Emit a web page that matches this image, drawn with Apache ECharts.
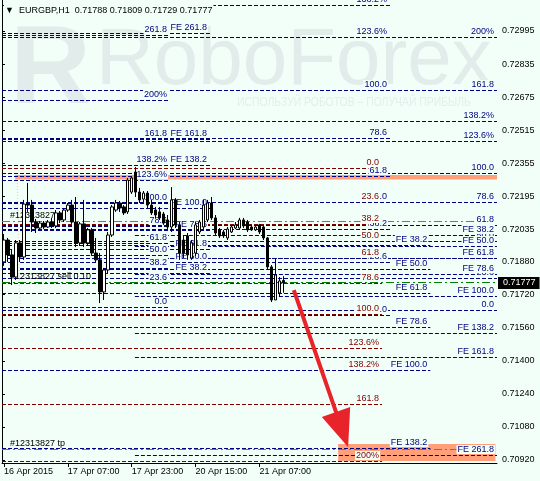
<!DOCTYPE html>
<html>
<head>
<meta charset="utf-8">
<script src="https://cdn.jsdelivr.net/npm/echarts@6/dist/echarts.min.js"></script>
<style>
  html, body { margin: 0; padding: 0; background: #F2FFF9; }
  #chart { width: 540px; height: 481px; }
</style>
</head>
<body>
<div id="chart"></div>
<script>
// EURGBP H1 candles, 16 Apr 15:00 .. 21 Apr 13:00
const opens = [0.71878,0.71984,0.71912,0.71805,0.71970,0.71902,0.72158,0.72153,0.72071,0.72042,
  0.72066,0.72047,0.72071,0.72052,0.72115,0.72081,0.72129,0.72153,0.72071,0.71970,
  0.72062,0.71970,0.72033,0.71921,0.71888,0.71733,0.71839,0.72008,0.72129,0.72163,
  0.72144,0.72120,0.72216,0.72313,0.72216,0.72182,0.72211,0.72153,0.72129,0.72120,
  0.72110,0.72081,0.72047,0.72178,0.72057,0.71984,0.72004,0.71897,0.71921,0.72023,
  0.72047,0.72081,0.72163,0.72091,0.72033,0.72023,0.71994,0.72023,0.72042,0.72042,
  0.72081,0.72071,0.72047,0.72033,0.72057,0.72047,0.71994,0.71854,0.71694,0.71728,
  0.71788];
const closes = [0.71984,0.71912,0.71805,0.71970,0.71902,0.72158,0.72153,0.72071,0.72042,0.72066,
  0.72047,0.72071,0.72052,0.72115,0.72081,0.72129,0.72153,0.72071,0.71970,0.72062,
  0.71970,0.72033,0.71921,0.71888,0.71733,0.71839,0.72008,0.72144,0.72163,0.72139,
  0.72115,0.72274,0.72284,0.72216,0.72178,0.72211,0.72153,0.72115,0.72105,0.72091,
  0.72066,0.72047,0.72178,0.72057,0.71921,0.71921,0.71912,0.71970,0.72057,0.72071,
  0.72153,0.72163,0.72091,0.72018,0.72004,0.72004,0.72037,0.72047,0.72057,0.72081,
  0.72052,0.72033,0.72033,0.72047,0.72023,0.71994,0.71854,0.71694,0.71815,0.71786,
  0.71777];
const lows = [0.71859,0.71878,0.71766,0.71791,0.71878,0.71888,0.72120,0.72023,0.72018,0.72033,
  0.72037,0.72042,0.72042,0.72042,0.72066,0.72071,0.72120,0.72062,0.71950,0.71955,
  0.71950,0.71955,0.71907,0.71878,0.71679,0.71694,0.71824,0.71999,0.72120,0.72120,
  0.72105,0.72110,0.72207,0.72192,0.72163,0.72168,0.72139,0.72105,0.72091,0.72081,
  0.72057,0.72037,0.72023,0.72042,0.71888,0.71897,0.71888,0.71888,0.71907,0.72013,
  0.72037,0.72071,0.72081,0.72008,0.71994,0.71994,0.71984,0.72018,0.72037,0.72033,
  0.72042,0.72023,0.72028,0.72028,0.72013,0.71984,0.71839,0.71684,0.71694,0.71708,
  0.71729];
const highs = [0.72013,0.71994,0.71936,0.71984,0.71984,0.72178,0.72260,0.72178,0.72086,0.72076,
  0.72076,0.72081,0.72091,0.72129,0.72124,0.72139,0.72163,0.72178,0.72192,0.72071,
  0.72178,0.72042,0.72042,0.71994,0.71921,0.71849,0.72023,0.72153,0.72178,0.72173,
  0.72153,0.72284,0.72294,0.72337,0.72236,0.72221,0.72221,0.72178,0.72144,0.72144,
  0.72120,0.72105,0.72240,0.72187,0.72071,0.72008,0.72018,0.71984,0.72071,0.72081,
  0.72178,0.72178,0.72192,0.72105,0.72042,0.72033,0.72047,0.72057,0.72071,0.72091,
  0.72091,0.72081,0.72057,0.72057,0.72062,0.72052,0.71999,0.71863,0.71897,0.71805,
  0.71809];

const xTickLabels = ['16 Apr 2015', '17 Apr 07:00', '17 Apr 23:00', '20 Apr 15:00', '21 Apr 07:00'];
const yTicks = [0.72995, 0.72835, 0.72675, 0.72515, 0.72355, 0.72195, 0.72035,
  0.71880, 0.71720, 0.71560, 0.71400, 0.71240, 0.71080, 0.70920];
const lastPrice = 0.71777;

// fibonacci levels
const leftRetLabels = ['261.8','200%','161.8','138.2%','123.6%','100.0','78.6','61.8','50.0','38.2','23.6','0.0'];
const leftRetPrices = [0.72976,0.72661,0.72473,0.72347,0.72274,0.72163,0.72052,0.71970,0.71912,0.71849,0.71776,0.71660];
const leftExpLabels = ['FE 261.8','FE 161.8','FE 138.2','FE 100.0','FE 78.6','FE 61.8','FE 50.0','FE 38.2'];
const leftExpPrices = [0.72985,0.72473,0.72347,0.72139,0.72033,0.71941,0.71878,0.71824];
const upperRetLabels = ['138.2%','123.6%','100.0','78.6','61.8','50.0','38.2','23.6','0.0'];
const upperRetPrices = [0.73122,0.72966,0.72710,0.72477,0.72294,0.72168,0.72037,0.71878,0.71621];
const redRetLabels = ['0.0','23.6','38.2','50.0','61.8','78.6','100.0','123.6%','138.2%','161.8','200%'];
const redRetPrices = [0.72332,0.72168,0.72062,0.71979,0.71897,0.71776,0.71626,0.71462,0.71355,0.71191,0.70915];
const midExpLabels = ['FE 38.2','FE 50.0','FE 61.8','FE 78.6','FE 100.0','FE 138.2'];
const midExpPrices = [0.71960,0.71844,0.71728,0.71563,0.71355,0.70978];
const rightRetLabels = ['200%','161.8','138.2%','123.6%','100.0','78.6','61.8','50.0','38.2','23.6','0.0'];
const rightRetPrices = [0.72966,0.72710,0.72560,0.72463,0.72308,0.72168,0.72057,0.71979,0.71897,0.71800,0.71646];
const rightExpLabels = ['FE 38.2','FE 50.0','FE 61.8','FE 78.6','FE 100.0','FE 138.2','FE 161.8','FE 261.8'];
const rightExpPrices = [0.72008,0.71955,0.71897,0.71820,0.71713,0.71534,0.71418,0.70944];

// order #12313827
const orderLabels = ['#12313827 sl', '#12313827 sell 0.10', '#12313827 tp'];
const orderPrices = [0.72076, 0.71781, 0.70973];

// zones, arrow, anchor line (bar index, price)
const zones = [[3.3, 124, 0.72299, 0.72277], [84.2, 123.6, 0.70997, 0.70915]];
const arrow = [73.1, 0.71742, 86.7, 0.70983];
const anchorLine = [3.8, 0.72289, 4.5, 0.71655];

const BG = '#F2FFF9';
const NAVY = '#000080';
const MAROON = '#800000';
const FONT = '9px "Liberation Sans", Arial, sans-serif';
const SLOTS = 124;

// build level list: [x0, x1, price], with colour/text kept beside
const levelData = [], levelColor = [], levelText = [];
function addSet(labels, prices, x0, x1, color) {
  prices.forEach((p, i) => {
    levelData.push([x0, x1, p]);
    levelColor.push(color);
    levelText.push(labels[i]);
  });
}
addSet(leftRetLabels, leftRetPrices, 0, 42.1, NAVY);
addSet(leftExpLabels, leftExpPrices, 0, 52.1, NAVY);
addSet(upperRetLabels, upperRetPrices, 0, 97.2, NAVY);
addSet(redRetLabels, redRetPrices, 0, 95.2, MAROON);
addSet(midExpLabels, midExpPrices, 0, 107.3, NAVY);
addSet(rightRetLabels, rightRetPrices, 0, SLOTS, NAVY);
addSet(rightExpLabels, rightExpPrices, 33.3, SLOTS, NAVY);

const orderData = orderPrices.map(p => [0, SLOTS, p]);
const orderColor = ['#FF4500', '#008000', '#FF4500'];

const candleData = opens.map((o, i) => [o, closes[i], lows[i], highs[i]]);
const categories = Array.from({ length: SLOTS }, (_, i) => String(i));

const chart = echarts.init(document.getElementById('chart'));

function crisp(v) { return Math.round(v) + 0.5; }

const option = {
  animation: false,
  backgroundColor: BG,
  grid: { left: 2, top: 0, width: 495, height: 463, outerBoundsMode: 'none', containLabel: false },
  graphic: [
    { type: 'text', left: 10, top: 16, z: -10, silent: true,
      style: { text: 'R', font: 'bold 112px "Liberation Sans", Arial, sans-serif', fill: '#E2ECEB' } },
    { type: 'text', left: 96, top: 22, z: -10, silent: true,
      style: { text: 'RoboForex', font: '80px "Liberation Sans", Arial, sans-serif', fill: '#E2ECEB' } },
    { type: 'text', left: 237, top: 96, z: -10, silent: true, scaleX: 0.8,
      style: { text: 'ИСПОЛЬЗУЙ РОБОТОВ – ПОЛУЧАЙ ПРИБЫЛЬ', font: '13px "Liberation Sans", Arial, sans-serif', fill: '#E3EDEC' } },
    { type: 'text', left: 4, top: 5, z: 100, silent: true,
      style: { text: '▼  EURGBP,H1  0.71788 0.71809 0.71729 0.71777', font: FONT, fill: '#000',
        backgroundColor: BG, padding: [1, 1, 1, 1] } }
  ],
  xAxis: [
    {
      type: 'category', data: categories, boundaryGap: true,
      axisLine: { lineStyle: { color: '#000', width: 1 } },
      axisTick: { show: true, alignWithLabel: true, length: 4, lineStyle: { color: '#000' },
        interval: (i) => i % 16 === 0 && i / 16 < xTickLabels.length },
      axisLabel: { show: true, color: '#000', fontFamily: 'Liberation Sans', fontSize: 9, align: 'left', margin: 4,
        interval: (i) => i % 16 === 0 && i / 16 < xTickLabels.length,
        formatter: (v, i) => xTickLabels[i / 16] || '' },
      splitLine: { show: false }
    },
    { type: 'value', min: 0, max: SLOTS, show: false }
  ],
  yAxis: [
    {
      type: 'value', position: 'right', min: 0.709055, max: 0.731449, scale: true,
      axisLine: { show: true, lineStyle: { color: '#000', width: 1 } },
      axisTick: { show: true, length: 3, customValues: yTicks, lineStyle: { color: '#000' } },
      axisLabel: { color: '#000', fontFamily: 'Liberation Sans', fontSize: 9, margin: 5,
        customValues: yTicks, formatter: v => v.toFixed(5) },
      splitLine: { show: false }
    },
    {
      type: 'value', position: 'left', min: 0.709055, max: 0.731449, scale: true,
      axisLine: { show: true, lineStyle: { color: '#000', width: 1 } },
      axisTick: { show: false }, axisLabel: { show: false }, splitLine: { show: false }
    }
  ],
  series: [
    { // coloured zones
      type: 'custom', xAxisIndex: 1, yAxisIndex: 0, z: 1, silent: true,
      encode: { x: [0, 1], y: [2, 3] },
      data: zones,
      renderItem: (params, api) => {
        const a = api.coord([api.value(0), api.value(2)]);
        const b = api.coord([api.value(1), api.value(3)]);
        return { type: 'rect', shape: { x: a[0], y: a[1], width: b[0] - a[0], height: b[1] - a[1] },
          style: { fill: '#FFA07A' } };
      }
    },
    { // fib anchor line
      type: 'custom', xAxisIndex: 1, yAxisIndex: 0, z: 2, silent: true,
      encode: { x: [0, 2], y: [1, 3] },
      data: [anchorLine],
      renderItem: (params, api) => {
        const a = api.coord([api.value(0), api.value(1)]);
        const b = api.coord([api.value(2), api.value(3)]);
        return { type: 'line', shape: { x1: a[0], y1: a[1], x2: b[0], y2: b[1] },
          style: { stroke: '#F2C9AE', lineWidth: 1, lineDash: [1, 2] } };
      }
    },
    { // fib levels
      type: 'custom', xAxisIndex: 1, yAxisIndex: 0, z: 2, silent: true,
      encode: { x: [0, 1], y: 2 },
      data: levelData,
      renderItem: (params, api) => {
        const a = api.coord([api.value(0), api.value(2)]);
        const b = api.coord([api.value(1), api.value(2)]);
        const y = crisp(a[1]);
        return { type: 'line', shape: { x1: a[0], y1: y, x2: b[0], y2: y },
          style: { stroke: levelColor[params.dataIndex], lineWidth: 1, lineDash: [4, 2] } };
      }
    },
    { // order lines
      type: 'custom', xAxisIndex: 1, yAxisIndex: 0, z: 2, silent: true,
      encode: { x: [0, 1], y: 2 },
      data: orderData,
      renderItem: (params, api) => {
        const a = api.coord([api.value(0), api.value(2)]);
        const b = api.coord([api.value(1), api.value(2)]);
        const y = crisp(a[1]);
        return { type: 'line', shape: { x1: a[0], y1: y, x2: b[0], y2: y },
          style: { stroke: orderColor[params.dataIndex], lineWidth: 1, lineDash: [8, 3, 2, 3] } };
      }
    },
    { // fib labels
      type: 'custom', xAxisIndex: 1, yAxisIndex: 0, z: 3, silent: true,
      encode: { x: 1, y: 2 },
      data: levelData,
      renderItem: (params, api) => {
        const b = api.coord([api.value(1), api.value(2)]);
        return { type: 'text', x: b[0] - 2, y: Math.round(b[1]) - 1,
          style: { text: levelText[params.dataIndex], font: FONT, fill: levelColor[params.dataIndex],
            align: 'right', verticalAlign: 'bottom', backgroundColor: BG, padding: [0, 1, 0, 1] } };
      }
    },
    { // order labels
      type: 'custom', xAxisIndex: 1, yAxisIndex: 0, z: 3, silent: true,
      encode: { x: 0, y: 2 },
      data: orderData,
      renderItem: (params, api) => {
        const a = api.coord([2, api.value(2)]);
        return { type: 'text', x: a[0], y: Math.round(a[1]) - 1,
          style: { text: orderLabels[params.dataIndex], font: FONT, fill: '#000',
            align: 'left', verticalAlign: 'bottom' } };
      }
    },
    {
      type: 'candlestick', xAxisIndex: 0, yAxisIndex: 0, z: 4, barWidth: 3,
      data: candleData,
      itemStyle: { color: '#FFFFFF', color0: '#000000', borderColor: '#000000', borderColor0: '#000000', borderWidth: 1 }
    },
    { // arrow
      type: 'custom', xAxisIndex: 1, yAxisIndex: 0, z: 5, silent: true,
      encode: { x: [0, 2], y: [1, 3] },
      data: [arrow],
      renderItem: (params, api) => {
        const a = api.coord([api.value(0), api.value(1)]);
        const b = api.coord([api.value(2), api.value(3)]);
        const dx = b[0] - a[0], dy = b[1] - a[1];
        const len = Math.sqrt(dx * dx + dy * dy);
        const ux = dx / len, uy = dy / len;
        const hl = 37, hw = 15;
        const bx = b[0] - ux * hl, by = b[1] - uy * hl;
        return { type: 'group', children: [
          { type: 'line', shape: { x1: a[0], y1: a[1], x2: bx + ux * 2, y2: by + uy * 2 },
            style: { stroke: '#E8232A', lineWidth: 4 } },
          { type: 'polygon', shape: { points: [[b[0], b[1]], [bx - uy * hw, by + ux * hw], [bx + uy * hw, by - ux * hw]] },
            style: { fill: '#E8232A' } }
        ] };
      }
    },
    { // last price tag on the price scale
      type: 'custom', xAxisIndex: 1, yAxisIndex: 0, z: 6, silent: true, clip: false,
      encode: { x: 0, y: 1 },
      data: [[SLOTS, lastPrice]],
      renderItem: (params, api) => {
        const a = api.coord([api.value(0), api.value(1)]);
        return { type: 'text', x: a[0] + 1, y: Math.round(a[1]),
          style: { text: lastPrice.toFixed(5), font: FONT, fill: '#FFFFFF', align: 'left', verticalAlign: 'middle',
            backgroundColor: '#000000', padding: [2, 4, 1, 5] } };
      }
    }
  ]
};

chart.setOption(option);
</script>
</body>
</html>
